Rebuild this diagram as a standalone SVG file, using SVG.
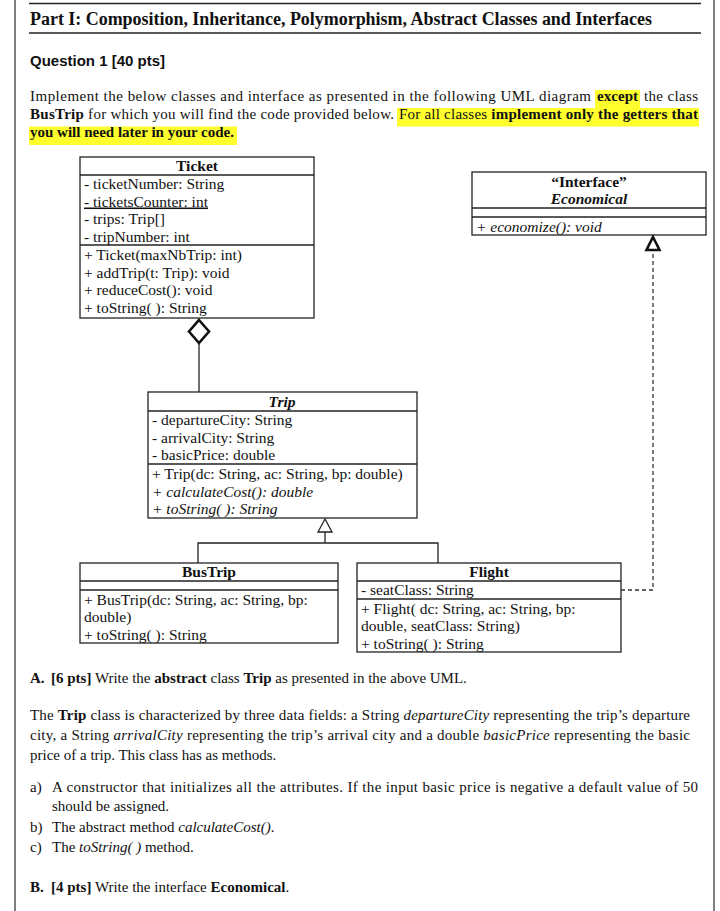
<svg xmlns="http://www.w3.org/2000/svg" width="720" height="911" viewBox="0 0 720 911">
<defs>
<style>
.t{font-family:"Liberation Serif","Times New Roman",serif;font-size:15px;fill:#111}
.u{font-family:"Liberation Serif","Times New Roman",serif;font-size:15.5px;fill:#111}
.b{font-weight:bold}
.i{font-style:italic}
.box{fill:#fff;stroke:#222;stroke-width:1.3}
.ln{stroke:#222;stroke-width:1.3;fill:none}
.hl{fill:#ffff2e}
</style>
</defs>
<rect width="720" height="911" fill="#fff"/>
<!-- page frame -->
<g id="page">
<line x1="15" y1="0" x2="15" y2="911" stroke="#555" stroke-width="1.5"/>
<line x1="714" y1="0" x2="714" y2="911" stroke="#555" stroke-width="1.5"/>
<line x1="29" y1="3.5" x2="701" y2="3.5" stroke="#222" stroke-width="1.5"/>
<line x1="29" y1="33" x2="701" y2="33" stroke="#222" stroke-width="1.5"/>
<text x="30" y="25" class="t b" style="font-size:18px" textLength="622" lengthAdjust="spacing">Part I: Composition, Inheritance, Polymorphism, Abstract Classes and Interfaces</text>
<text x="30" y="66" style="font-family:'Liberation Sans',Arial,sans-serif;font-size:15px;font-weight:bold;fill:#111">Question 1 [40 pts]</text>
<rect class="hl" x="595" y="90" width="45" height="18"/>
<rect class="hl" x="397" y="108" width="302" height="18.5"/>
<rect class="hl" x="29" y="126.5" width="208" height="18.5"/>
<text x="30" y="101" class="t" textLength="561" lengthAdjust="spacing">Implement the below classes and interface as presented in the following UML diagram</text>
<text x="597" y="101" class="t b" textLength="41" lengthAdjust="spacing">except</text>
<text x="644" y="101" class="t" textLength="54" lengthAdjust="spacing">the class</text>
<text x="30" y="119" class="t" textLength="364" lengthAdjust="spacing"><tspan class="b">BusTrip</tspan> for which you will find the code provided below.</text>
<text x="399" y="119" class="t" textLength="299" lengthAdjust="spacing">For all classes <tspan class="b">implement only the getters that</tspan></text>
<text x="30" y="137" class="t b">you will need later in your code.</text>
</g>
<!-- UML nodes -->
<g id="ticket">
<rect class="box" x="80" y="157" width="234" height="161"/>
<line class="ln" x1="80" y1="175" x2="314" y2="175"/>
<line class="ln" x1="80" y1="245" x2="314" y2="245"/>
<text x="197" y="171" class="u b" text-anchor="middle">Ticket</text>
<text x="84" y="189" class="u">- ticketNumber: String</text>
<text x="84" y="206.5" class="u" text-decoration="underline">- ticketsCounter: int</text>
<text x="84" y="224" class="u">- trips: Trip[]</text>
<text x="84" y="241.5" class="u">- tripNumber: int</text>
<text x="84" y="260" class="u">+ Ticket(maxNbTrip: int)</text>
<text x="84" y="277.5" class="u">+ addTrip(t: Trip): void</text>
<text x="84" y="295" class="u">+ reduceCost(): void</text>
<text x="84" y="313" class="u">+ toString( ): String</text>
</g>
<g id="economical">
<rect class="box" x="472" y="172" width="234" height="63"/>
<line class="ln" x1="472" y1="208" x2="706" y2="208"/>
<line class="ln" x1="472" y1="217" x2="706" y2="217"/>
<text x="589" y="187" class="u b" text-anchor="middle">“Interface”</text>
<text x="589" y="204" class="u b i" text-anchor="middle">Economical</text>
<text x="476" y="232" class="u i">+ economize(): void</text>
</g>
<g id="trip">
<rect class="box" x="148" y="392" width="269" height="126"/>
<line class="ln" x1="148" y1="411" x2="417" y2="411"/>
<line class="ln" x1="148" y1="464" x2="417" y2="464"/>
<text x="282" y="407" class="u b i" text-anchor="middle">Trip</text>
<text x="152" y="425" class="u">- departureCity: String</text>
<text x="152" y="442.5" class="u">- arrivalCity: String</text>
<text x="152" y="460" class="u">- basicPrice: double</text>
<text x="152" y="479" class="u">+ Trip(dc: String, ac: String, bp: double)</text>
<text x="152" y="496.5" class="u i">+ calculateCost(): double</text>
<text x="152" y="514" class="u i">+ toString( ): String</text>
</g>
<g id="bustrip">
<rect class="box" x="80" y="563" width="258" height="80"/>
<line class="ln" x1="80" y1="581" x2="338" y2="581"/>
<line class="ln" x1="80" y1="590" x2="338" y2="590"/>
<text x="209" y="577" class="u b" text-anchor="middle">BusTrip</text>
<text x="84" y="605" class="u">+ BusTrip(dc: String, ac: String, bp:</text>
<text x="84" y="622" class="u">double)</text>
<text x="84" y="639.5" class="u">+ toString( ): String</text>
</g>
<g id="flight">
<rect class="box" x="357" y="563" width="264" height="89"/>
<line class="ln" x1="357" y1="581" x2="621" y2="581"/>
<line class="ln" x1="357" y1="599" x2="621" y2="599"/>
<text x="489" y="577" class="u b" text-anchor="middle">Flight</text>
<text x="361" y="595" class="u">- seatClass: String</text>
<text x="361" y="614" class="u">+ Flight( dc: String, ac: String, bp:</text>
<text x="361" y="631" class="u">double, seatClass: String)</text>
<text x="361" y="648.5" class="u">+ toString( ): String</text>
</g>
<!-- connectors -->
<g id="connectors">
<line class="ln" x1="199" y1="343" x2="199" y2="392"/>
<polygon points="199,320 209,331.5 199,343 189,331.5" fill="#fff" stroke="#111" stroke-width="2.6"/>
<polygon points="325,519 332,532 318,532" fill="#fff" stroke="#222" stroke-width="1.3"/>
<polyline class="ln" points="325,532 325,543"/>
<polyline class="ln" points="198,563 198,543 438,543 438,563"/>
<polyline points="621,590 653,590 653,252" fill="none" stroke="#333" stroke-width="1.3" stroke-dasharray="4,3"/>
<polygon points="653,237 659.5,250 646.5,250" fill="#fff" stroke="#111" stroke-width="2.6"/>
</g>
<!-- questions text -->
<g id="questions">
<text x="30" y="683" class="t"><tspan class="b">A.</tspan><tspan x="51" class="b">[6 pts]</tspan> Write the <tspan class="b">abstract</tspan> class <tspan class="b">Trip</tspan> as presented in the above UML.</text>
<text x="30" y="720" class="t" textLength="660" lengthAdjust="spacing">The <tspan class="b">Trip</tspan> class is characterized by three data fields: a String <tspan class="i">departureCity</tspan> representing the trip’s departure</text>
<text x="30" y="740" class="t" textLength="660" lengthAdjust="spacing">city, a String <tspan class="i">arrivalCity</tspan> representing the trip’s arrival city and a double <tspan class="i">basicPrice</tspan> representing the basic</text>
<text x="30" y="760" class="t">price of a trip. This class has as methods.</text>
<text x="30" y="792" class="t">a)</text>
<text x="52" y="792" class="t" textLength="646" lengthAdjust="spacing">A constructor that initializes all the attributes. If the input basic price is negative a default value of 50</text>
<text x="52" y="811" class="t">should be assigned.</text>
<text x="30" y="832" class="t">b)</text>
<text x="52" y="832" class="t">The abstract method <tspan class="i">calculateCost()</tspan>.</text>
<text x="30" y="852" class="t">c)</text>
<text x="52" y="852" class="t">The <tspan class="i">toString( )</tspan> method.</text>
<text x="30" y="892" class="t"><tspan class="b">B.</tspan><tspan x="51" class="b">[4 pts]</tspan> Write the interface <tspan class="b">Economical</tspan>.</text>
</g>
</svg>
